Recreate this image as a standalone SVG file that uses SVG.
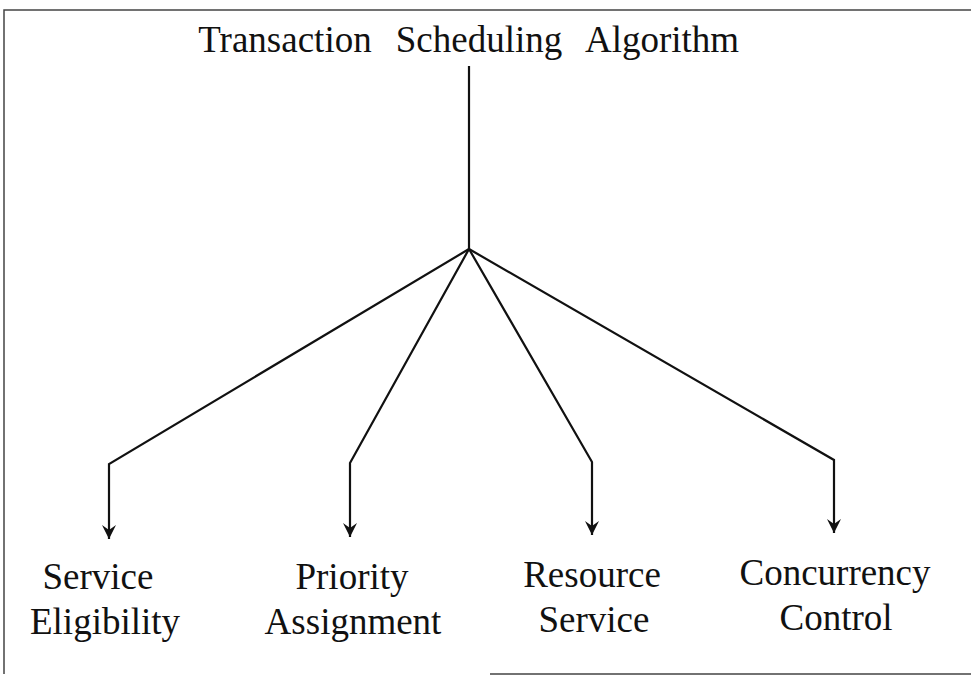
<svg xmlns="http://www.w3.org/2000/svg" width="971" height="678" viewBox="0 0 971 678">
<style>
.t{font-family:"Liberation Serif","Times New Roman",serif;font-size:37px;fill:#111;text-anchor:middle;}
.c{fill:none;stroke:#111;stroke-width:2.2;stroke-linejoin:miter;}
.b{fill:none;stroke:#444;stroke-width:1.5;}
</style>
<defs>
<marker id="ah" markerUnits="userSpaceOnUse" markerWidth="18" markerHeight="20" refX="0" refY="0" viewBox="-9 -18 18 20" orient="auto-start-reverse" overflow="visible">
<path d="M0,0 L-7,-14 L0,-9 L7,-14 Z" fill="#111" transform="rotate(-90)"/>
</marker>
</defs>
<rect width="971" height="678" fill="#fff"/>
<path class="b" d="M4,674 L4,10 L971,10 M490,674 L971,674"/>
<g id="title">
<text class="t" x="285" y="52">Transaction</text>
<text class="t" x="479" y="52">Scheduling</text>
<text class="t" x="662" y="52">Algorithm</text>
</g>
<g id="connectors">
<path class="c" d="M469,66 L469,249"/>
<path class="c" d="M469,249 L109,464 L109,539" marker-end="url(#ah)"/>
<path class="c" d="M469,249 L350,463 L350,537" marker-end="url(#ah)"/>
<path class="c" d="M469,249 L592,462 L592,535" marker-end="url(#ah)"/>
<path class="c" d="M469,249 L834,460 L834,533" marker-end="url(#ah)"/>
</g>
<g id="n1">
<text class="t" x="98" y="589">Service</text>
<text class="t" x="105" y="634">Eligibility</text>
</g>
<g id="n2">
<text class="t" x="352" y="589">Priority</text>
<text class="t" x="353" y="634">Assignment</text>
</g>
<g id="n3">
<text class="t" x="592" y="587">Resource</text>
<text class="t" x="594" y="632">Service</text>
</g>
<g id="n4">
<text class="t" x="835" y="585">Concurrency</text>
<text class="t" x="836" y="630">Control</text>
</g>
</svg>
